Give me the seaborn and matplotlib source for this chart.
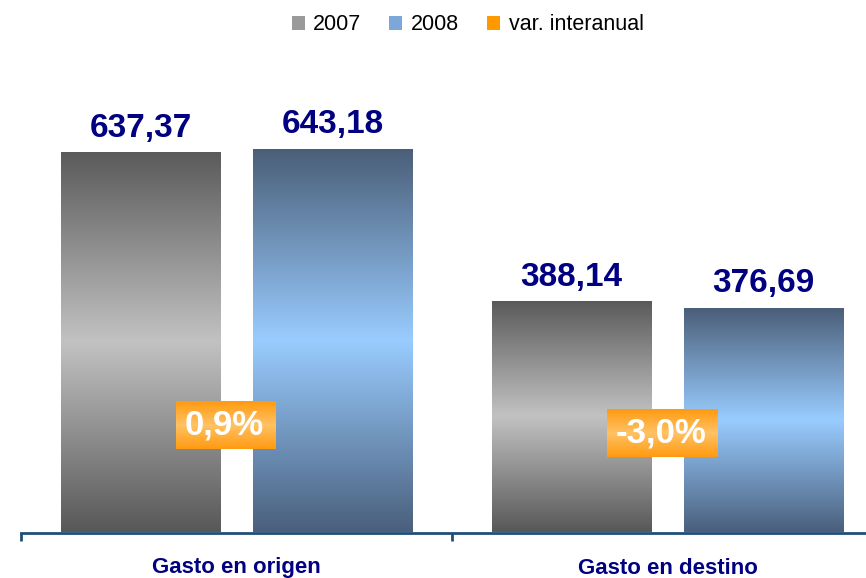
import numpy as np
import pandas as pd
import matplotlib
matplotlib.use('Agg')
import matplotlib.pyplot as plt
from matplotlib.colors import LinearSegmentedColormap
from matplotlib.patches import Patch
import seaborn as sns

# Chart data
categories = ['Gasto en origen', 'Gasto en destino']
years = ['2007', '2008']
gasto_2007 = [637.37, 388.14]
gasto_2008 = [643.18, 376.69]
var_interanual = [0.9, -3.0]

df = pd.DataFrame({
    'categoria': categories * 2,
    'anio': [years[0]] * 2 + [years[1]] * 2,
    'gasto': gasto_2007 + gasto_2008,
})

plt.rcParams['font.family'] = ['Liberation Sans', 'DejaVu Sans']
navy = '#000080'
axis_col = '#1f4e79'

# gradient colormaps (dark - light - dark)
cmap_2007 = LinearSegmentedColormap.from_list('g', ['#585858', '#c2c2c2', '#5a5a5a'])
cmap_2008 = LinearSegmentedColormap.from_list('b', ['#4a5f7c', '#99ccff', '#4a5e78'])
cmap_var = LinearSegmentedColormap.from_list('o', ['#ff9a10', '#ffc264', '#ff9a10'])
grad = np.linspace(0, 1, 256).reshape(-1, 1)

XLIM = (-0.5, -0.5 + 845 / 431)
YLIM = (0, 892.4)
YLIM2 = (-51.5, 208)

fig = plt.figure(figsize=(8.66, 5.78), dpi=100)
ax = fig.add_axes([21 / 866, 45.5 / 578, 845 / 866, 532.5 / 578])

sns.barplot(data=df, x='categoria', y='gasto', hue='anio', width=0.891, gap=0.167,
            legend=False, ax=ax)

# replace flat fills with vertical gradients
for container, cmap in zip(ax.containers, [cmap_2007, cmap_2008]):
    for bar in container:
        x, w, h = bar.get_x(), bar.get_width(), bar.get_height()
        im = ax.imshow(grad, cmap=cmap, extent=(x, x + w, 0, h), origin='lower',
                       aspect='auto', zorder=2)
        im.set_clip_path(bar)
        bar.set_facecolor('none')
        bar.set_edgecolor('none')
        ax.annotate(f'{h:.2f}'.replace('.', ','), (x + w / 2, h), xytext=(0, 11),
                    textcoords='offset points', ha='center', va='baseline',
                    fontsize=24, fontweight='bold', color=navy)

ax.set_xlim(XLIM)
ax.set_ylim(YLIM)

# axis styling
for s in ['top', 'right', 'left']:
    ax.spines[s].set_visible(False)
ax.spines['bottom'].set_color(axis_col)
ax.spines['bottom'].set_linewidth(2)
ax.set_yticks([])
ax.set_xlabel('')
ax.set_ylabel('')
ax.set_xticks([-0.5, 0.5, 1.5])
ax.set_xticklabels([])
ax.tick_params(axis='x', which='major', length=6, width=2, color=axis_col)
ax.set_xticks([0, 1], minor=True)
ax.set_xticklabels(categories, minor=True, fontsize=16, fontweight='bold', color=navy)
ax.tick_params(axis='x', which='minor', length=0, pad=18)

# year-on-year change boxes on a hidden secondary axis
ax2 = ax.twinx()
ax2.set_ylim(YLIM2)
ax2.axis('off')
texts = []
for i, v in enumerate(var_interanual):
    t = ax2.text(i - 0.12, v, f'{v:.1f}%'.replace('.', ','), ha='left', va='center',
                 fontsize=25, fontweight='bold', color='white', zorder=6)
    texts.append(t)

fig.canvas.draw()
renderer = fig.canvas.get_renderer()
inv = ax2.transData.inverted()
for t in texts:
    bb = t.get_window_extent(renderer)
    (x0, y0) = inv.transform((bb.x0 - 9, bb.y0 - 8))
    (x1, y1) = inv.transform((bb.x1 + 9, bb.y1 + 7))
    ax2.imshow(grad, cmap=cmap_var, extent=(x0, x1, y0, y1), origin='lower',
               aspect='auto', zorder=5)

# imshow can move the shared limits, so pin them again
ax.set_xlim(XLIM)
ax2.set_xlim(XLIM)
ax.set_ylim(YLIM)
ax2.set_ylim(YLIM2)

handles = [Patch(facecolor='#9a9a9a', label='2007'),
           Patch(facecolor='#7ba7d9', label='2008'),
           Patch(facecolor='#ff9900', label='var. interanual')]
fig.legend(handles=handles, loc='center', bbox_to_anchor=(0.54, 0.957), ncol=3,
           frameon=False, fontsize=15.5, handlelength=0.6, handleheight=0.6,
           handletextpad=0.4, columnspacing=1.3)

fig.savefig('out.png', dpi=100)
